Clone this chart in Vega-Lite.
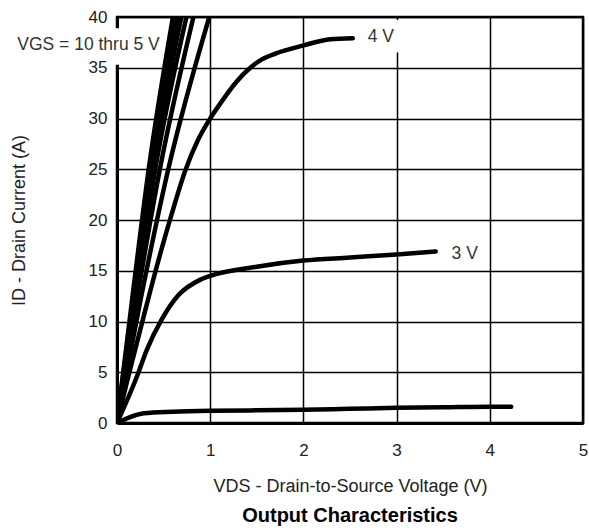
{
  "$schema": "https://vega.github.io/schema/vega-lite/v6.json",
  "width": 466,
  "height": 406,
  "autosize": {"type": "none"},
  "padding": {"left": 117, "top": 17, "right": 6, "bottom": 108},
  "background": "white",
  "config": {
    "view": {"stroke": "black", "strokeWidth": 2.5},
    "font": "Liberation Sans"
  },
  "title": {
    "text": "Output Characteristics",
    "orient": "bottom",
    "anchor": "middle",
    "font": "Liberation Sans",
    "fontSize": 20,
    "fontWeight": "bold",
    "color": "black",
    "offset": 11
  },
  "datasets": {
    "curves": [
      {"vgs": "10 V", "vds": 0, "id": 0},
      {"vgs": "10 V", "vds": 0.16, "id": 12},
      {"vgs": "10 V", "vds": 0.34, "id": 25},
      {"vgs": "10 V", "vds": 0.6, "id": 40},
      {"vgs": "9 V", "vds": 0, "id": 0},
      {"vgs": "9 V", "vds": 0.17, "id": 12},
      {"vgs": "9 V", "vds": 0.36, "id": 25},
      {"vgs": "9 V", "vds": 0.645, "id": 40},
      {"vgs": "8 V", "vds": 0, "id": 0},
      {"vgs": "8 V", "vds": 0.18, "id": 12},
      {"vgs": "8 V", "vds": 0.385, "id": 25},
      {"vgs": "8 V", "vds": 0.69, "id": 40},
      {"vgs": "7 V", "vds": 0, "id": 0},
      {"vgs": "7 V", "vds": 0.19, "id": 12},
      {"vgs": "7 V", "vds": 0.41, "id": 25},
      {"vgs": "7 V", "vds": 0.745, "id": 40},
      {"vgs": "6 V", "vds": 0, "id": 0},
      {"vgs": "6 V", "vds": 0.21, "id": 12},
      {"vgs": "6 V", "vds": 0.46, "id": 25},
      {"vgs": "6 V", "vds": 0.82, "id": 40},
      {"vgs": "5 V", "vds": 0, "id": 0},
      {"vgs": "5 V", "vds": 0.25, "id": 12},
      {"vgs": "5 V", "vds": 0.55, "id": 25},
      {"vgs": "5 V", "vds": 0.99, "id": 40},
      {"vgs": "4 V", "vds": 0, "id": 0},
      {"vgs": "4 V", "vds": 0.1, "id": 3.8},
      {"vgs": "4 V", "vds": 0.2, "id": 7.4},
      {"vgs": "4 V", "vds": 0.3, "id": 11},
      {"vgs": "4 V", "vds": 0.45, "id": 16.2},
      {"vgs": "4 V", "vds": 0.6, "id": 21},
      {"vgs": "4 V", "vds": 0.73, "id": 24.8},
      {"vgs": "4 V", "vds": 0.87, "id": 27.9},
      {"vgs": "4 V", "vds": 1.0, "id": 30},
      {"vgs": "4 V", "vds": 1.11, "id": 31.5},
      {"vgs": "4 V", "vds": 1.28, "id": 33.6},
      {"vgs": "4 V", "vds": 1.43, "id": 35.0},
      {"vgs": "4 V", "vds": 1.55, "id": 35.8},
      {"vgs": "4 V", "vds": 1.7, "id": 36.4},
      {"vgs": "4 V", "vds": 2.0, "id": 37.2},
      {"vgs": "4 V", "vds": 2.29, "id": 37.8},
      {"vgs": "4 V", "vds": 2.53, "id": 37.9},
      {"vgs": "3 V", "vds": 0, "id": 0},
      {"vgs": "3 V", "vds": 0.215, "id": 4.6},
      {"vgs": "3 V", "vds": 0.32, "id": 7.2},
      {"vgs": "3 V", "vds": 0.48, "id": 10.2},
      {"vgs": "3 V", "vds": 0.66, "id": 12.6},
      {"vgs": "3 V", "vds": 0.89, "id": 14.1},
      {"vgs": "3 V", "vds": 1.0, "id": 14.5},
      {"vgs": "3 V", "vds": 1.5, "id": 15.4},
      {"vgs": "3 V", "vds": 2.0, "id": 16.0},
      {"vgs": "3 V", "vds": 2.5, "id": 16.3},
      {"vgs": "3 V", "vds": 3.0, "id": 16.6},
      {"vgs": "3 V", "vds": 3.42, "id": 16.9},
      {"vgs": "2 V", "vds": 0, "id": 0},
      {"vgs": "2 V", "vds": 0.29, "id": 0.95},
      {"vgs": "2 V", "vds": 0.6, "id": 1.1},
      {"vgs": "2 V", "vds": 1.0, "id": 1.2},
      {"vgs": "2 V", "vds": 1.5, "id": 1.25},
      {"vgs": "2 V", "vds": 2.0, "id": 1.3},
      {"vgs": "2 V", "vds": 2.5, "id": 1.4},
      {"vgs": "2 V", "vds": 3.0, "id": 1.5},
      {"vgs": "2 V", "vds": 3.5, "id": 1.55},
      {"vgs": "2 V", "vds": 4.0, "id": 1.6},
      {"vgs": "2 V", "vds": 4.23, "id": 1.6}
    ],
    "boxes": [
      {"x": -0.03, "x2": 0.47, "y": 35.3, "y2": 38.9},
      {"x": 2.62, "x2": 3.06, "y": 36.5, "y2": 39.7}
    ],
    "labels": [
      {"x": -1.07, "y": 36.7, "text": "VGS = 10 thru 5 V"},
      {"x": 2.69, "y": 37.5, "text": "4 V"},
      {"x": 3.59, "y": 16.2, "text": "3 V"}
    ]
  },
  "layer": [
    {
      "data": {"name": "curves"},
      "mark": {"type": "line", "stroke": "black", "strokeWidth": 4.5, "strokeCap": "round", "strokeJoin": "round", "interpolate": "monotone", "clip": true},
      "encoding": {
        "x": {
          "field": "vds", "type": "quantitative",
          "scale": {"domain": [0, 5], "nice": false, "zero": false},
          "axis": {
            "values": [0, 1, 2, 3, 4, 5],
            "format": "d",
            "title": "VDS - Drain-to-Source Voltage (V)",
            "grid": true, "gridColor": "black", "gridWidth": 1.5, "gridOpacity": 1,
            "domainColor": "black", "domainWidth": 3,
            "ticks": false, "labelPadding": 19, "labelFlush": false,
            "labelFont": "Liberation Sans", "labelFontSize": 17, "labelColor": "#222",
            "titleFont": "Liberation Sans", "titleFontSize": 18, "titleFontWeight": "normal", "titleColor": "#222",
            "titlePadding": 19
          }
        },
        "y": {
          "field": "id", "type": "quantitative",
          "scale": {"domain": [0, 40], "nice": false, "zero": false},
          "axis": {
            "values": [0, 5, 10, 15, 20, 25, 30, 35, 40],
            "format": "d",
            "title": "ID - Drain Current (A)",
            "grid": true, "gridColor": "black", "gridWidth": 1.5, "gridOpacity": 1,
            "domainColor": "black", "domainWidth": 3,
            "ticks": false, "labelPadding": 10, "labelFlush": false,
            "labelFont": "Liberation Sans", "labelFontSize": 17, "labelColor": "#222",
            "titleFont": "Liberation Sans", "titleFontSize": 18, "titleFontWeight": "normal", "titleColor": "#222",
            "titlePadding": 60
          }
        },
        "detail": {"field": "vgs", "type": "nominal"}
      }
    },
    {
      "data": {"name": "boxes"},
      "mark": {"type": "rect", "fill": "white", "stroke": null},
      "encoding": {
        "x": {"field": "x", "type": "quantitative"},
        "x2": {"field": "x2"},
        "y": {"field": "y", "type": "quantitative"},
        "y2": {"field": "y2"}
      }
    },
    {
      "data": {"name": "labels"},
      "mark": {"type": "text", "align": "left", "baseline": "alphabetic", "font": "Liberation Sans", "fontSize": 17.5, "color": "#333"},
      "encoding": {
        "x": {"field": "x", "type": "quantitative"},
        "y": {"field": "y", "type": "quantitative"},
        "text": {"field": "text"}
      }
    }
  ]
}
